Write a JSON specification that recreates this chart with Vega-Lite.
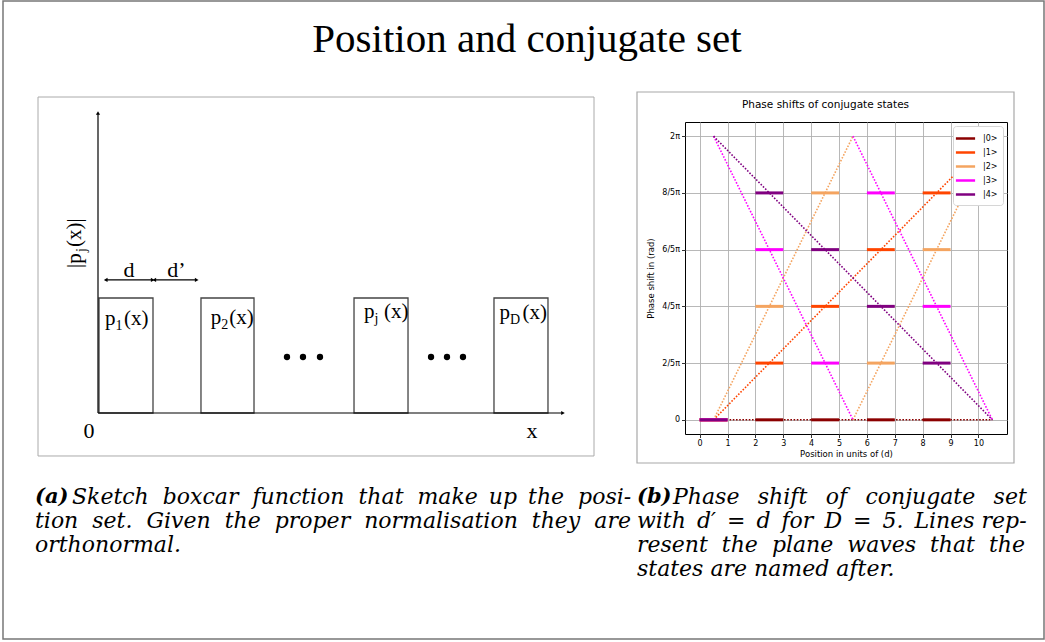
{
  "$schema": "https://vega.github.io/schema/vega-lite/v6.json",
  "padding": {"left": 2, "top": 0, "right": 0, "bottom": 0},
  "background": "white",
  "bounds": "flush",
  "align": "none",
  "columns": 2,
  "spacing": {"row": 51, "column": 89},
  "config": {"font": "DejaVu Sans"},
  "resolve": {"scale": {"stroke": "independent"}, "legend": {"stroke": "independent"}},
  "concat": [
    {
      "width": 558,
      "height": 312,
      "view": {"stroke": null},
      "encoding": {
        "x": {"field": "x", "type": "quantitative", "scale": {"domain": [-1.1111, 9.2222], "nice": false, "zero": false}, "axis": null},
        "y": {"field": "y", "type": "quantitative", "scale": {"domain": [-0.18261, 2.53043], "nice": false, "zero": false}, "axis": null}
      },
      "layer": [
        {
          "data": {"values": [{"x": -1.7593, "x2": 17.5185, "y": 3.5826, "y2": -1.9652}]},
          "mark": {"type": "rect", "fill": "transparent", "stroke": "#777777", "strokeWidth": 1.5},
          "encoding": {"x2": {"field": "x2"}, "y2": {"field": "y2"}}
        },
        {
          "data": {"values": [{"x": -1.1111, "x2": 9.1852, "y": 2.7478, "y2": -0.3739}]},
          "mark": {"type": "rect", "fill": "transparent", "stroke": "#aaaaaa", "strokeWidth": 1},
          "encoding": {"x2": {"field": "x2"}, "y2": {"field": "y2"}}
        },
        {
          "data": {"values": [{"t": "Position and conjugate set", "x": 7.944, "y": 3.139}]},
          "mark": {"type": "text", "align": "center", "baseline": "alphabetic", "font": "Liberation Serif", "fontSize": 41, "color": "black"},
          "encoding": {"text": {"field": "t"}}
        },
        {
          "data": {"values": [
            {"box": "p1", "x": 0.0185, "x2": 1.0185, "y": 0, "y2": 1},
            {"box": "p2", "x": 1.907, "x2": 2.889, "y": 0, "y2": 1},
            {"box": "pj", "x": 4.741, "x2": 5.741, "y": 0, "y2": 1},
            {"box": "pD", "x": 7.333, "x2": 8.333, "y": 0, "y2": 1}
          ]},
          "mark": {"type": "rect", "fill": "transparent", "stroke": "#444444", "strokeWidth": 1.3},
          "encoding": {"x2": {"field": "x2"}, "y2": {"field": "y2"}}
        },
        {
          "data": {"values": [
            {"x": 0, "y": 0, "x2": 0, "y2": 2.6087},
            {"x": 0, "y": 0, "x2": 8.6111, "y2": 0},
            {"x": 0.1426, "y": 1.157, "x2": 1.013, "y2": 1.157},
            {"x": 1.0426, "y": 1.157, "x2": 1.8278, "y2": 1.157}
          ]},
          "mark": {"type": "rule", "stroke": "black", "strokeWidth": 1.2},
          "encoding": {"x2": {"field": "x2"}, "y2": {"field": "y2"}}
        },
        {
          "data": {"values": [{"x": 0, "y": 2.6087}]},
          "mark": {"type": "point", "shape": "triangle-up", "filled": true, "color": "black", "size": 18, "opacity": 1}
        },
        {
          "data": {"values": [{"x": 8.6111, "y": 0}, {"x": 1.013, "y": 1.157}, {"x": 1.8278, "y": 1.157}]},
          "mark": {"type": "point", "shape": "triangle-right", "filled": true, "color": "black", "size": 18, "opacity": 1}
        },
        {
          "data": {"values": [{"x": 0.1426, "y": 1.157}, {"x": 1.0426, "y": 1.157}]},
          "mark": {"type": "point", "shape": "triangle-left", "filled": true, "color": "black", "size": 18, "opacity": 1}
        },
        {
          "data": {"values": [
            {"x": 3.5, "y": 0.487}, {"x": 3.796, "y": 0.487}, {"x": 4.111, "y": 0.487},
            {"x": 6.167, "y": 0.487}, {"x": 6.463, "y": 0.487}, {"x": 6.759, "y": 0.487}
          ]},
          "mark": {"type": "point", "shape": "circle", "filled": true, "color": "black", "size": 40, "opacity": 1}
        },
        {
          "data": {"values": [
            {"t": "d", "x": 0.574, "y": 1.183},
            {"t": "d’", "x": 1.454, "y": 1.183},
            {"t": "0", "x": -0.167, "y": -0.217},
            {"t": "x", "x": 8.037, "y": -0.217}
          ]},
          "mark": {"type": "text", "align": "center", "baseline": "alphabetic", "font": "Liberation Serif", "fontSize": 22, "color": "black"},
          "encoding": {"text": {"field": "t"}}
        },
        {
          "data": {"values": [
            {"sub": "1", "x": 0.13, "xp": 0.481, "y": 0.765},
            {"sub": "2", "x": 2.087, "xp": 2.43, "y": 0.774},
            {"sub": "j", "x": 4.924, "xp": 5.296, "y": 0.826},
            {"sub": "D", "x": 7.437, "xp": 7.859, "y": 0.817}
          ]},
          "layer": [
            {
              "mark": {"type": "text", "align": "left", "baseline": "alphabetic", "font": "Liberation Serif", "fontSize": 21, "color": "black"},
              "encoding": {"text": {"value": "p"}}
            },
            {
              "mark": {"type": "text", "align": "left", "baseline": "alphabetic", "font": "Liberation Serif", "fontSize": 14, "color": "black", "dx": 10.5, "dy": 5},
              "encoding": {"text": {"field": "sub"}}
            },
            {
              "mark": {"type": "text", "align": "left", "baseline": "alphabetic", "font": "Liberation Serif", "fontSize": 21, "color": "black"},
              "encoding": {"x": {"field": "xp", "type": "quantitative"}, "text": {"value": "(x)"}}
            }
          ]
        },
        {
          "data": {"values": [{"t": "|p", "x": -0.315, "y": 1.261}, {"t": "(x)|", "x": -0.315, "y": 1.443}]},
          "mark": {"type": "text", "align": "left", "baseline": "alphabetic", "angle": 270, "font": "Liberation Serif", "fontSize": 21, "color": "black"},
          "encoding": {"text": {"field": "t"}}
        },
        {
          "data": {"values": [{"t": "j", "x": -0.222, "y": 1.4}]},
          "mark": {"type": "text", "align": "left", "baseline": "alphabetic", "angle": 270, "font": "Liberation Serif", "fontSize": 14, "color": "black"},
          "encoding": {"text": {"field": "t"}}
        }
      ]
    },
    {
      "width": 322,
      "height": 312,
      "view": {"stroke": "black", "strokeWidth": 1},
      "encoding": {
        "x": {
          "field": "x", "type": "quantitative",
          "scale": {"domain": [-0.525, 11.025], "nice": false, "zero": false},
          "axis": {"values": [0, 1, 2, 3, 4, 5, 6, 7, 8, 9, 10], "format": "d", "title": "Position in units of (d)", "grid": true, "gridColor": "#b0b0b0", "gridWidth": 0.9, "domain": false, "tickColor": "black", "tickSize": 3.5, "tickWidth": 0.8, "labelFont": "DejaVu Sans", "labelFontSize": 8, "labelColor": "black", "labelPadding": 2, "labelOverlap": false, "titleFont": "DejaVu Sans", "titleFontSize": 8.5, "titleFontWeight": "normal", "titleColor": "black", "titlePadding": 2}
        },
        "y": {
          "field": "y", "type": "quantitative",
          "scale": {"domain": [-0.31416, 6.59734], "nice": false, "zero": false},
          "axis": {"values": [0, 1.256637, 2.513274, 3.769911, 5.026548, 6.283185], "labelExpr": "['0','2/5π','4/5π','6/5π','8/5π','2π'][round(datum.value*5/(2*PI))]", "title": "Phase shift in (rad)", "grid": true, "gridColor": "#b0b0b0", "gridWidth": 0.9, "domain": false, "tickColor": "black", "tickSize": 3.5, "tickWidth": 0.8, "labelFont": "DejaVu Sans", "labelFontSize": 8, "labelColor": "black", "labelPadding": 2, "labelOverlap": false, "titleFont": "DejaVu Sans", "titleFontSize": 8.5, "titleFontWeight": "normal", "titleColor": "black", "titlePadding": 6}
        }
      },
      "layer": [
        {
          "data": {"values": [{"x": -2.247, "x2": 11.276, "y": 7.2619, "y2": -0.9565}]},
          "mark": {"type": "rect", "fill": "transparent", "stroke": "#a8a8a8", "strokeWidth": 1.2},
          "encoding": {"x2": {"field": "x2"}, "y2": {"field": "y2"}}
        },
        {
          "data": {"values": [{"t": "Phase shifts of conjugate states", "x": 4.515, "y": 6.9806}]},
          "mark": {"type": "text", "align": "center", "baseline": "middle", "font": "DejaVu Sans", "fontSize": 10.5, "color": "black"},
          "encoding": {"text": {"field": "t"}}
        },
        {
          "data": {"values": [
            {"state": "|0>", "seg": "0", "x": 0.5, "y": 0},
            {"state": "|0>", "seg": "0", "x": 10.5, "y": 0},
            {"state": "|1>", "seg": "1", "x": 0.5, "y": 0},
            {"state": "|1>", "seg": "1", "x": 10.5, "y": 6.283185},
            {"state": "|2>", "seg": "2a", "x": 0.5, "y": 0},
            {"state": "|2>", "seg": "2a", "x": 5.5, "y": 6.283185},
            {"state": "|2>", "seg": "2b", "x": 5.5, "y": 0},
            {"state": "|2>", "seg": "2b", "x": 10.5, "y": 6.283185},
            {"state": "|3>", "seg": "3a", "x": 0.5, "y": 6.283185},
            {"state": "|3>", "seg": "3a", "x": 5.5, "y": 0},
            {"state": "|3>", "seg": "3b", "x": 5.5, "y": 6.283185},
            {"state": "|3>", "seg": "3b", "x": 10.5, "y": 0},
            {"state": "|4>", "seg": "4", "x": 0.5, "y": 6.283185},
            {"state": "|4>", "seg": "4", "x": 10.5, "y": 0}
          ]},
          "mark": {"type": "line", "strokeWidth": 1.6, "strokeDash": [1.6, 1.6]},
          "encoding": {
            "stroke": {
              "field": "state", "type": "nominal",
              "scale": {"domain": ["|0>", "|1>", "|2>", "|3>", "|4>"], "range": ["#8b0000", "#ff4500", "#f4a460", "#ff00ff", "#800080"]},
              "legend": {"title": null, "orient": "top-right", "offset": 4, "symbolType": "M-1.6,0L1.6,0", "symbolSize": 144, "symbolStrokeWidth": 2.5, "symbolDash": [1, 0], "labelFont": "DejaVu Sans", "labelFontSize": 8, "labelColor": "black", "labelOffset": 10, "rowPadding": 1, "padding": 5, "fillColor": "white", "strokeColor": "#d6d6d6", "cornerRadius": 3}
            },
            "detail": {"field": "seg"}
          }
        },
        {
          "data": {"values": [
            {"state": "|0>", "x": 0, "x2": 1, "y": 0},
            {"state": "|0>", "x": 2, "x2": 3, "y": 0},
            {"state": "|0>", "x": 4, "x2": 5, "y": 0},
            {"state": "|0>", "x": 6, "x2": 7, "y": 0},
            {"state": "|0>", "x": 8, "x2": 9, "y": 0},
            {"state": "|1>", "x": 0, "x2": 1, "y": 0},
            {"state": "|1>", "x": 2, "x2": 3, "y": 1.256637},
            {"state": "|1>", "x": 4, "x2": 5, "y": 2.513274},
            {"state": "|1>", "x": 6, "x2": 7, "y": 3.769911},
            {"state": "|1>", "x": 8, "x2": 9, "y": 5.026548},
            {"state": "|2>", "x": 0, "x2": 1, "y": 0},
            {"state": "|2>", "x": 2, "x2": 3, "y": 2.513274},
            {"state": "|2>", "x": 4, "x2": 5, "y": 5.026548},
            {"state": "|2>", "x": 6, "x2": 7, "y": 1.256637},
            {"state": "|2>", "x": 8, "x2": 9, "y": 3.769911},
            {"state": "|3>", "x": 0, "x2": 1, "y": 0},
            {"state": "|3>", "x": 2, "x2": 3, "y": 3.769911},
            {"state": "|3>", "x": 4, "x2": 5, "y": 1.256637},
            {"state": "|3>", "x": 6, "x2": 7, "y": 5.026548},
            {"state": "|3>", "x": 8, "x2": 9, "y": 2.513274},
            {"state": "|4>", "x": 0, "x2": 1, "y": 0},
            {"state": "|4>", "x": 2, "x2": 3, "y": 5.026548},
            {"state": "|4>", "x": 4, "x2": 5, "y": 3.769911},
            {"state": "|4>", "x": 6, "x2": 7, "y": 2.513274},
            {"state": "|4>", "x": 8, "x2": 9, "y": 1.256637}
          ]},
          "mark": {"type": "rule", "strokeWidth": 3},
          "encoding": {
            "x2": {"field": "x2"},
            "stroke": {
              "field": "state", "type": "nominal",
              "scale": {"domain": ["|0>", "|1>", "|2>", "|3>", "|4>"], "range": ["#8b0000", "#ff4500", "#f4a460", "#ff00ff", "#800080"]},
              "legend": {"title": null, "orient": "top-right", "offset": 4, "symbolType": "M-1.6,0L1.6,0", "symbolSize": 144, "symbolStrokeWidth": 2.5, "symbolDash": [1, 0], "labelFont": "DejaVu Sans", "labelFontSize": 8, "labelColor": "black", "labelOffset": 10, "rowPadding": 1, "padding": 5, "fillColor": "white", "strokeColor": "#d6d6d6", "cornerRadius": 3}
            }
          }
        }
      ]
    },
    {
      "width": 510,
      "height": 96,
      "view": {"stroke": null},
      "encoding": {
        "x": {"datum": 0, "type": "quantitative", "scale": {"domain": [0, 1], "nice": false, "zero": false}, "axis": null},
        "y": {"field": "line", "type": "quantitative", "scale": {"domain": [4.5, 0.5], "nice": false, "zero": false}, "axis": null},
        "text": {"field": "t"}
      },
      "layer": [
        {
          "data": {"values": [{"line": 1, "t": "(a)"}]},
          "mark": {"type": "text", "align": "left", "baseline": "middle", "font": "DejaVu Serif", "fontStyle": "italic", "fontWeight": "bold", "fontSize": 21, "color": "black", "dx": -3}
        },
        {
          "data": {"values": [{"line": 1, "t": "Sketch\u2007boxcar\u2007function\u2007that\u2007make\u2002up\u2002the\u2007posi-"}]},
          "mark": {"type": "text", "align": "left", "baseline": "middle", "font": "DejaVu Serif", "fontStyle": "italic", "fontSize": 22, "color": "black", "dx": 34}
        },
        {
          "data": {"values": [{"line": 2, "t": "tion\u2007set.\u2007Given\u2007the\u2007proper\u2007normalisation\u2007they\u2007are"}, {"line": 3, "t": "orthonormal."}]},
          "mark": {"type": "text", "align": "left", "baseline": "middle", "font": "DejaVu Serif", "fontStyle": "italic", "fontSize": 22, "color": "black", "dx": -3}
        }
      ]
    },
    {
      "width": 385,
      "height": 96,
      "view": {"stroke": null},
      "encoding": {
        "x": {"datum": 0, "type": "quantitative", "scale": {"domain": [0, 1], "nice": false, "zero": false}, "axis": null},
        "y": {"field": "line", "type": "quantitative", "scale": {"domain": [4.5, 0.5], "nice": false, "zero": false}, "axis": null},
        "text": {"field": "t"}
      },
      "layer": [
        {
          "data": {"values": [{"line": 1, "t": "(b)"}]},
          "mark": {"type": "text", "align": "left", "baseline": "middle", "font": "DejaVu Serif", "fontStyle": "italic", "fontWeight": "bold", "fontSize": 21, "color": "black", "dx": -48}
        },
        {
          "data": {"values": [{"line": 1, "t": "Phase\u2007\u2009shift\u2007\u2009of\u2007\u2009conjugate\u2007\u2009set"}]},
          "mark": {"type": "text", "align": "left", "baseline": "middle", "font": "DejaVu Serif", "fontStyle": "italic", "fontSize": 22, "color": "black", "dx": -12}
        },
        {
          "data": {"values": [
            {"line": 2, "t": "with\u2002d′\u2002=\u2002d\u2002for\u2002D\u2002=\u20025.\u2002Lines rep-"},
            {"line": 3, "t": "resent\u2007the\u2007plane\u2007waves\u2007that\u2007the"},
            {"line": 4, "t": "states are named after."}
          ]},
          "mark": {"type": "text", "align": "left", "baseline": "middle", "font": "DejaVu Serif", "fontStyle": "italic", "fontSize": 22, "color": "black", "dx": -48}
        }
      ]
    }
  ]
}
